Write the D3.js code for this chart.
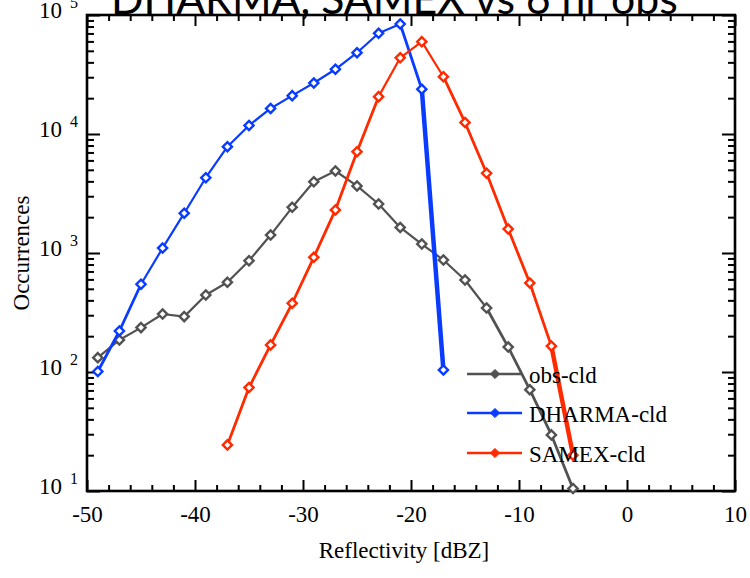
<!DOCTYPE html>
<html><head><meta charset="utf-8">
<script src="https://cdn.jsdelivr.net/npm/d3@7"></script>
<style>html,body{margin:0;padding:0;background:#fff;}</style>
</head><body>
<svg id="chart" width="750" height="578"></svg>
<script>
// ---- data ----
const titleText = "DHARMA, SAMEX vs 6 hr obs";
const xLabel = "Reflectivity [dBZ]";
const yLabel = "Occurrences";
const seriesNames = ["obs-cld", "DHARMA-cld", "SAMEX-cld"];
const seriesColors = ["#525252", "#0a3cff", "#ff2a00"];

const obsX = [-49,-47,-45,-43,-41,-39,-37,-35,-33,-31,-29,-27,-25,-23,-21,-19,-17,-15,-13,-11,-9,-7,-5];
const obsY = [132,186,236,307,292,444,567,861,1415,2420,3970,4890,3660,2580,1640,1190,873,593,345,162,71,29.6,10.5];

const dharmaX = [-49,-47,-45,-43,-41,-39,-37,-35,-33,-31,-29,-27,-25,-23,-21,-19,-17];
const dharmaY = [101,221,546,1100,2160,4290,7820,11800,16400,21000,26800,35000,48200,70200,84000,23800,104];

const samexX = [-37,-35,-33,-31,-29,-27,-25,-23,-21,-19,-17,-15,-13,-11,-9,-7,-5];
const samexY = [24.4,74,169,378,920,2300,7100,20600,43700,59700,30300,12500,4680,1590,560,165,20];

const xTicks = [-50,-40,-30,-20,-10,0,10];
const xMinorTicks = [-48,-46,-44,-42,-38,-36,-34,-32,-28,-26,-24,-22,-18,-16,-14,-12,-8,-6,-4,-2,2,4,6,8];
const yTicks = [10,100,1000,10000,100000];
const yMinorTicks = [20,30,40,50,60,70,80,90,200,300,400,500,600,700,800,900,2000,3000,4000,5000,6000,7000,8000,9000,20000,30000,40000,50000,60000,70000,80000,90000];

// ---- layout ----
const L = 87, R = 735, T = 15, B = 491;
const svg = d3.select("#chart");
const x = d3.scaleLinear().domain([-50, 10]).range([L, R]);
const y = d3.scaleLog().domain([10, 100000]).range([B, T]);
const serif = "'Liberation Serif', 'Times New Roman', serif";

// axes (inward ticks on all four sides)
function styleAxis(g) {
  g.selectAll(".domain").remove();
  g.selectAll(".tick line").attr("stroke", "#000").attr("stroke-width", 2);
  g.selectAll("text").attr("font-family", serif).attr("font-size", 23).attr("fill", "#000");
}
svg.append("g").attr("transform", `translate(0,${B})`)
  .call(d3.axisBottom(x).tickValues(xTicks).tickSize(-11).tickPadding(15).tickFormat(d => d3.format("d")(d).replace("−","-")))
  .call(styleAxis);
svg.append("g").attr("transform", `translate(0,${B})`)
  .call(d3.axisBottom(x).tickValues(xMinorTicks).tickSize(-6).tickFormat(""))
  .call(styleAxis);
svg.append("g").attr("transform", `translate(0,${T})`)
  .call(d3.axisTop(x).tickValues(xTicks).tickSize(-11).tickFormat(""))
  .call(styleAxis);
svg.append("g").attr("transform", `translate(0,${T})`)
  .call(d3.axisTop(x).tickValues(xMinorTicks).tickSize(-6).tickFormat(""))
  .call(styleAxis);

const leftAx = svg.append("g").attr("transform", `translate(${L},0)`)
  .call(d3.axisLeft(y).tickValues(yTicks).tickSize(-13).tickPadding(9).tickFormat(""))
  .call(styleAxis);
leftAx.selectAll(".tick text").each(function(d) {
  const t = d3.select(this).attr("dy", null).attr("y", 2);
  t.append("tspan").text("10");
  t.append("tspan").attr("dx", 8).attr("dy", -10).attr("font-size", 16).text(Math.round(Math.log10(d)));
});
svg.append("g").attr("transform", `translate(${L},0)`)
  .call(d3.axisLeft(y).tickValues(yMinorTicks).tickSize(-7).tickFormat(""))
  .call(styleAxis);
svg.append("g").attr("transform", `translate(${R},0)`)
  .call(d3.axisRight(y).tickValues(yTicks).tickSize(-13).tickFormat(""))
  .call(styleAxis);
svg.append("g").attr("transform", `translate(${R},0)`)
  .call(d3.axisRight(y).tickValues(yMinorTicks).tickSize(-7).tickFormat(""))
  .call(styleAxis);

// frame
svg.append("rect").attr("x", L).attr("y", T).attr("width", R - L).attr("height", B - T)
  .attr("fill", "none").attr("stroke", "#000").attr("stroke-width", 2.6);

// series
const diamond = r => `M0,${-r}L${r},0L0,${r}L${-r},0Z`;
const line = d3.line().x(d => x(d[0])).y(d => y(d[1]));
const series = [
  {xs: obsX, ys: obsY, c: seriesColors[0]},
  {xs: dharmaX, ys: dharmaY, c: seriesColors[1]},
  {xs: samexX, ys: samexY, c: seriesColors[2]}
];
series.forEach(s => {
  const pts = s.xs.map((v, i) => [v, s.ys[i]]);
  // draw segment by segment; steep segments drawn slightly heavier
  for (let i = 0; i < pts.length - 1; i++) {
    const a = pts[i], b = pts[i + 1];
    const steep = Math.abs(y(b[1]) - y(a[1])) / Math.abs(x(b[0]) - x(a[0]));
    svg.append("path").attr("d", line([a, b])).attr("fill", "none")
      .attr("stroke", s.c).attr("stroke-width", steep > 4 ? 4.5 : (steep > 1.8 ? 2.8 : 2.2))
      .attr("stroke-linecap", "round");
  }
  svg.append("g").selectAll("path").data(pts).join("path")
    .attr("d", diamond(4.6))
    .attr("transform", d => `translate(${x(d[0])},${y(d[1])})`)
    .attr("fill", "#fff").attr("stroke", s.c).attr("stroke-width", 2.4);
});

// legend
const legY = [374, 413, 453];
seriesNames.forEach((n, i) => {
  const g = svg.append("g");
  g.append("line").attr("x1", 467).attr("x2", 522).attr("y1", legY[i]).attr("y2", legY[i])
    .attr("stroke", seriesColors[i]).attr("stroke-width", 2.4);
  g.append("path").attr("d", diamond(4.6)).attr("transform", `translate(495,${legY[i]})`)
    .attr("fill", seriesColors[i]).attr("stroke", seriesColors[i]).attr("stroke-width", 1);
  g.append("text").attr("x", 529).attr("y", legY[i] + 9)
    .attr("font-family", serif).attr("font-size", 23).attr("fill", "#000").text(n);
});

// axis titles
svg.append("text").attr("x", (L + R) / 2 - 7).attr("y", 558).attr("text-anchor", "middle")
  .attr("font-family", serif).attr("font-size", 23).attr("fill", "#000").text(xLabel);
svg.append("text").attr("transform", "translate(29,253) rotate(-90)").attr("text-anchor", "middle")
  .attr("font-family", serif).attr("font-size", 23).attr("fill", "#000").text(yLabel);

// title (fit to its width in the reference)
const title = svg.append("text").attr("x", 111).attr("y", 13.5)
  .attr("font-family", "Lato, 'Open Sans', sans-serif").attr("font-size", 40).attr("fill", "#000").text(titleText);
const tl = title.node().getComputedTextLength();
title.attr("font-size", 40 * 567 / tl);
</script>
</body></html>
